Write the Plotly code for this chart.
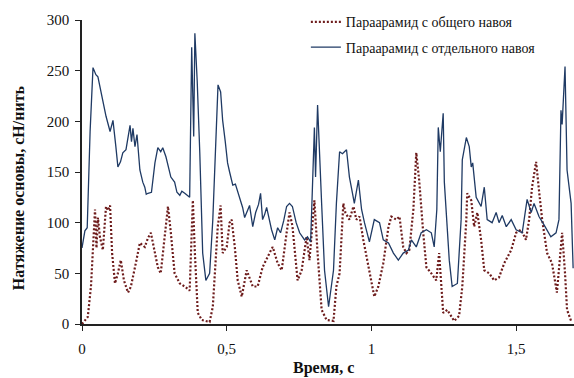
import plotly.graph_objects as go

# Separate warp (solid)
t_sep = [0.000, 0.010, 0.018, 0.028, 0.038, 0.048, 0.055, 0.063, 0.072, 0.083, 0.097, 0.107, 0.117,
         0.124, 0.133, 0.141, 0.152, 0.166, 0.171, 0.176, 0.183, 0.190, 0.200, 0.210, 0.217, 0.222,
         0.228, 0.240, 0.252, 0.262, 0.272, 0.279, 0.290, 0.300, 0.307, 0.320, 0.328, 0.338, 0.345,
         0.355, 0.365, 0.372, 0.379, 0.386, 0.390, 0.398, 0.407, 0.417, 0.428, 0.441, 0.452, 0.465,
         0.470, 0.479, 0.486, 0.495, 0.503, 0.510, 0.521, 0.530, 0.545, 0.555, 0.562, 0.572, 0.579,
         0.590, 0.600, 0.610, 0.617, 0.624, 0.631, 0.638, 0.648, 0.655, 0.666, 0.676, 0.686, 0.697,
         0.707, 0.717, 0.727, 0.740, 0.752, 0.769, 0.779, 0.790, 0.803, 0.807, 0.814, 0.821, 0.828,
         0.838, 0.852, 0.869, 0.879, 0.890, 0.900, 0.914, 0.924, 0.934, 0.941, 0.955, 0.966, 0.976,
         0.993, 1.010, 1.028, 1.041, 1.059, 1.076, 1.093, 1.110, 1.128, 1.138, 1.155, 1.172, 1.190,
         1.207, 1.217, 1.226, 1.231, 1.238, 1.248, 1.252, 1.258, 1.269, 1.279, 1.297, 1.310, 1.314,
         1.328, 1.338, 1.345, 1.350, 1.362, 1.379, 1.390, 1.400, 1.417, 1.431, 1.441, 1.452, 1.466,
         1.483, 1.500, 1.521, 1.538, 1.552, 1.562, 1.579, 1.596, 1.620, 1.638, 1.648, 1.655, 1.659,
         1.669, 1.676, 1.690, 1.697]
v_sep = [75, 92, 95, 190, 253, 246, 244, 232, 221, 205, 190, 201, 175,
         155, 160, 169, 172, 196, 180, 193, 175, 187, 152, 140, 135, 128,
         129, 130, 159, 174, 170, 174, 165, 152, 145, 140, 130, 127, 131,
         129, 127, 125, 273, 185, 287, 240, 169, 70, 43, 50, 103, 208,
         236, 229, 201, 180, 159, 150, 137, 138, 125, 115, 105, 112, 117,
         96, 110, 118, 129, 103, 108, 115, 100, 93, 83, 95, 90, 102,
         116, 119, 116, 100, 90, 83, 86, 81, 194, 145, 216, 160, 119,
         53, 17, 53, 119, 170, 168, 172, 145, 130, 119, 142, 113, 100,
         81, 103, 100, 83, 80, 70, 63, 70, 73, 83, 76, 90, 93,
         90, 76, 113, 194, 170, 208, 140, 113, 63, 37, 40, 103, 162,
         184, 175, 155, 159, 125, 116, 135, 103, 100, 110, 100, 107, 96,
         103, 93, 90, 123, 110, 119, 106, 98, 86, 90, 103, 211, 197,
         254, 152, 119, 55]

# Common warp (dotted)
t_com = [0.000, 0.020, 0.031, 0.038, 0.045, 0.050, 0.055, 0.062, 0.072, 0.083, 0.090, 0.097, 0.104,
         0.114, 0.124, 0.134, 0.145, 0.159, 0.169, 0.186, 0.200, 0.217, 0.228, 0.238, 0.252, 0.262,
         0.272, 0.286, 0.297, 0.307, 0.320, 0.338, 0.355, 0.372, 0.383, 0.390, 0.400, 0.414, 0.441,
         0.452, 0.459, 0.469, 0.479, 0.486, 0.500, 0.510, 0.517, 0.528, 0.538, 0.552, 0.569, 0.579,
         0.590, 0.607, 0.624, 0.648, 0.659, 0.676, 0.690, 0.707, 0.717, 0.727, 0.745, 0.759, 0.776,
         0.786, 0.803, 0.814, 0.828, 0.845, 0.869, 0.879, 0.890, 0.903, 0.910, 0.924, 0.938, 0.948,
         0.959, 0.972, 0.983, 0.993, 1.010, 1.024, 1.041, 1.059, 1.069, 1.086, 1.097, 1.110, 1.121,
         1.131, 1.145, 1.155, 1.165, 1.179, 1.190, 1.207, 1.224, 1.234, 1.248, 1.262, 1.286, 1.303,
         1.314, 1.328, 1.331, 1.345, 1.355, 1.366, 1.379, 1.390, 1.407, 1.424, 1.441, 1.459, 1.483,
         1.500, 1.517, 1.534, 1.545, 1.555, 1.569, 1.579, 1.590, 1.607, 1.624, 1.641, 1.655, 1.659,
         1.669, 1.676, 1.690]
v_com = [0, 7, 37, 70, 113, 75, 105, 86, 73, 116, 112, 117, 70,
         40, 50, 63, 43, 31, 37, 60, 80, 76, 85, 90, 70, 56,
         50, 86, 116, 90, 50, 40, 37, 33, 122, 70, 11, 4, 2,
         17, 53, 96, 117, 70, 76, 100, 103, 76, 43, 27, 53, 45,
         37, 37, 56, 70, 76, 60, 53, 90, 110, 97, 43, 53, 86,
         63, 122, 70, 14, 4, 3, 37, 50, 119, 110, 103, 116, 103,
         106, 83, 66, 53, 27, 37, 60, 96, 106, 103, 106, 76, 70,
         73, 113, 169, 142, 90, 56, 50, 43, 70, 11, 14, 3, 8,
         37, 103, 129, 122, 96, 110, 83, 53, 50, 43, 46, 60, 73,
         90, 93, 83, 103, 135, 160, 132, 103, 70, 60, 31, 83, 90,
         50, 14, 3]

x_tickvals = [0, 0.5, 1, 1.5]
x_ticktext = ["0", "0,5", "1", "1,5"]
y_tickvals = [0, 50, 100, 150, 200, 250, 300]

name_com = "Параарамид с общего навоя"
name_sep = "Параарамид с отдельного навоя"
x_title = "Время, с"
y_title = "Натяжение основы, сН/нить"

serif = "Liberation Serif, Tinos, DejaVu Serif, Noto Serif, serif"

fig = go.Figure()
fig.add_trace(go.Scatter(x=t_com, y=v_com, mode="lines", name=name_com,
                         legendgroup="a",
                         line=dict(color="#6e1c1c", width=2.2, dash="2px,2px")))
fig.add_trace(go.Scatter(x=t_sep, y=v_sep, mode="lines", name=name_sep,
                         legendgroup="b",
                         line=dict(color="#1f3a64", width=1.3)))

fig.update_layout(
    width=574, height=378,
    margin=dict(l=82, r=0, t=20, b=54),
    paper_bgcolor="white", plot_bgcolor="white",
    font=dict(family=serif, size=13, color="#111"),
    showlegend=True,
    legend=dict(x=0.455, y=1.045, xanchor="left", yanchor="top",
                bgcolor="rgba(0,0,0,0)", font=dict(family=serif, size=14, color="#111"),
                tracegroupgap=4, itemwidth=30),
    xaxis=dict(range=[0, 1.7], tickvals=x_tickvals, ticktext=x_ticktext,
               showgrid=False, zeroline=False, showline=True, linecolor="#222", linewidth=1.5,
               ticks="outside", ticklen=5, tickcolor="#222", automargin=False,
               ticklabelstandoff=5,
               tickfont=dict(family=serif, size=15)),
    yaxis=dict(range=[0, 300], tickvals=y_tickvals,
               showgrid=False, zeroline=False, showline=True, linecolor="#222", linewidth=1.5,
               ticks="outside", ticklen=5, tickcolor="#222", automargin=False,
               ticklabelstandoff=3,
               tickfont=dict(family=serif, size=15)),
    annotations=[
        dict(text="<b>" + x_title + "</b>", xref="paper", yref="paper", x=0.49, y=-0.145,
             xanchor="center", yanchor="middle", showarrow=False,
             font=dict(family=serif, size=16, color="#111")),
        dict(text="<b>" + y_title + "</b>", xref="paper", yref="paper", x=-0.13, y=0.447,
             xanchor="center", yanchor="middle", showarrow=False, textangle=-90,
             font=dict(family=serif, size=16, color="#111")),
    ],
)

fig.write_html("out.html",
               config={"displayModeBar": False},
               post_script="document.body.style.margin='0';document.body.style.overflow='hidden';")
